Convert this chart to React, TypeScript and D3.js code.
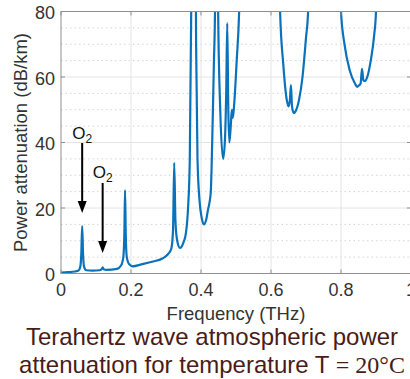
import React from "react";
import * as d3 from "d3";

const freqTHz = [
  0.0, 0.02, 0.04, 0.05, 0.055, 0.058, 0.0605, 0.063, 0.066, 0.072, 0.09, 0.11, 0.116, 0.119, 0.122, 0.13,
  0.16, 0.172, 0.178, 0.181, 0.183, 0.185, 0.188, 0.195, 0.205, 0.23, 0.26, 0.29, 0.305, 0.315, 0.32,
  0.3235, 0.327, 0.332, 0.34, 0.35, 0.357, 0.363, 0.368, 0.372, 0.376, 0.382, 0.386, 0.39, 0.396,
  0.402, 0.408, 0.415, 0.42, 0.424, 0.428, 0.432, 0.437, 0.44, 0.443, 0.446, 0.449, 0.455, 0.463,
  0.468, 0.472, 0.475, 0.478, 0.481, 0.485, 0.488, 0.491, 0.495, 0.502, 0.509, 0.515, 0.62, 0.626,
  0.635, 0.645, 0.65, 0.654, 0.657, 0.66, 0.665, 0.67, 0.68, 0.69, 0.7, 0.706, 0.712, 0.795, 0.8,
  0.81, 0.825, 0.84, 0.846, 0.852, 0.856, 0.86, 0.864, 0.869, 0.875, 0.885, 0.895, 0.9, 0.905, 1.0,
];
const attenuation = [
  0.3, 0.4, 0.6, 0.9, 2, 6, 14.5, 6, 2, 1.0, 0.9, 1.0, 1.3, 1.9, 1.3, 1.1,
  1.4, 2.5, 5, 12, 25.5, 12, 5, 2.8, 2.2, 2.8, 3.6, 4.6, 5.8, 7.5, 13,
  33.8, 16, 10, 7.8, 9.5, 12.4, 20, 35, 80, 150, 150, 70, 35, 22,
  17, 15, 16.5, 19.5, 21.5, 25, 40, 65, 80, 150, 150, 80, 50, 35,
  40, 55, 76.5, 50, 40, 45, 50, 47.5, 52, 65, 80, 110, 110, 80,
  64, 53, 51, 53, 57.5, 51, 49, 49.5, 53, 60, 72, 80, 110, 110, 80,
  70, 62, 58, 57, 57.5, 58, 62.5, 59, 58.8, 60, 65, 73, 80, 110, 110,
];
const xTicks = [0, 0.2, 0.4, 0.6, 0.8, 1];
const xTickLabels = ["0", "0.2", "0.4", "0.6", "0.8", "1"];
const yTicks = [0, 20, 40, 60, 80];
const yMinorTicks = [5, 10, 15, 25, 30, 35, 45, 50, 55, 65, 70, 75];
const o2Lines = [0.0605, 0.119];

export default function App() {
  const W = 410, H = 379;
  const L = 61, R = 411, T = 11.5, B = 273.5;
  const x = d3.scaleLinear().domain([0, 1]).range([L, R]);
  const y = d3.scaleLinear().domain([0, 80]).range([B, T]);
  const pts: [number, number][] = freqTHz.map((f, i) => [f, attenuation[i]]);
  const line = d3
    .line<[number, number]>()
    .x((d) => x(d[0]))
    .y((d) => y(d[1]))
    .curve(d3.curveMonotoneX);
  const axisColor = "#8f8f8f";
  const font = "'Liberation Sans', Arial, sans-serif";
  const textColor = "#333";

  const arrows = [
    { f: o2Lines[0], y1: 143, y2: 213, ty: 139 },
    { f: o2Lines[1], y1: 183, y2: 253, ty: 178 },
  ];

  return (
    <svg width={W} height={H} style={{ position: "absolute", left: 0, top: 0 }}>
      <rect width={W} height={H} fill="#fff" />
      <defs>
        <clipPath id="plotClip">
          <rect x={L} y={T} width={R - L} height={B - T} />
        </clipPath>
      </defs>
      {yMinorTicks.map((v) => (
        <line key={"ym" + v} x1={L} x2={R} y1={y(v)} y2={y(v)} stroke="#d4d4d4" strokeWidth={1} strokeDasharray="1.5,3" />
      ))}
      {yTicks.slice(1, -1).map((v) => (
        <line key={"yg" + v} x1={L} x2={R} y1={y(v)} y2={y(v)} stroke="#e4e4e4" strokeWidth={1} />
      ))}
      {xTicks.slice(1, -1).map((v) => (
        <line key={"xg" + v} x1={x(v)} x2={x(v)} y1={T} y2={B} stroke="#e4e4e4" strokeWidth={1} />
      ))}
      <path d={line(pts) || ""} fill="none" stroke="#0a72bb" strokeWidth={2.2} clipPath="url(#plotClip)" strokeLinejoin="round" />
      <rect x={L} y={T} width={R - L} height={B - T} fill="none" stroke={axisColor} strokeWidth={1} />
      {xTicks.map((v) => (
        <g key={"xt" + v}>
          <line x1={x(v)} x2={x(v)} y1={B} y2={B - 4} stroke={axisColor} />
          <line x1={x(v)} x2={x(v)} y1={T} y2={T + 4} stroke={axisColor} />
        </g>
      ))}
      {yTicks.map((v) => (
        <g key={"yt" + v}>
          <line x1={L} x2={L + 4} y1={y(v)} y2={y(v)} stroke={axisColor} />
          <line x1={R} x2={R - 4} y1={y(v)} y2={y(v)} stroke={axisColor} />
        </g>
      ))}
      {xTicks.map((v, i) => (
        <text key={"xl" + v} x={x(v)} y={296} textAnchor="middle" fontFamily={font} fontSize={18} fill={textColor}>
          {xTickLabels[i]}
        </text>
      ))}
      {yTicks.map((v) => (
        <text key={"yl" + v} x={55} y={y(v) + 7.5} textAnchor="end" fontFamily={font} fontSize={18} fill={textColor}>
          {v}
        </text>
      ))}
      <text x={236} y={320} textAnchor="middle" fontFamily={font} fontSize={18.5} fill={textColor}>
        Frequency (THz)
      </text>
      <text transform={`translate(27,${(T + B) / 2}) rotate(-90)`} textAnchor="middle" fontFamily={font} fontSize={18.5} fill={textColor}>
        Power attenuation (dB/km)
      </text>
      {arrows.map((a, i) => (
        <g key={"ar" + i}>
          <line x1={x(a.f)} x2={x(a.f)} y1={a.y1} y2={a.y2 - 10} stroke="#000" strokeWidth={2} />
          <path d={`M${x(a.f) - 4.5},${a.y2 - 12} L${x(a.f) + 4.5},${a.y2 - 12} L${x(a.f)},${a.y2} Z`} fill="#000" />
          <text x={x(a.f) - 10} y={a.ty} fontFamily={font} fontSize={17} fill="#111">
            O<tspan fontSize={12} dy={4}>2</tspan>
          </text>
        </g>
      ))}
      <text x={212} y={345} textAnchor="middle" fontFamily={font} fontSize={24} fill="#4a1c17">
        Terahertz wave atmospheric power
      </text>
      <text x={212} y={373} textAnchor="middle" fontFamily={font} fontSize={24} fill="#4a1c17">
        attenuation for temperature T <tspan fontFamily="'Liberation Serif', 'Times New Roman', serif">= 20°C</tspan>
      </text>
    </svg>
  );
}
